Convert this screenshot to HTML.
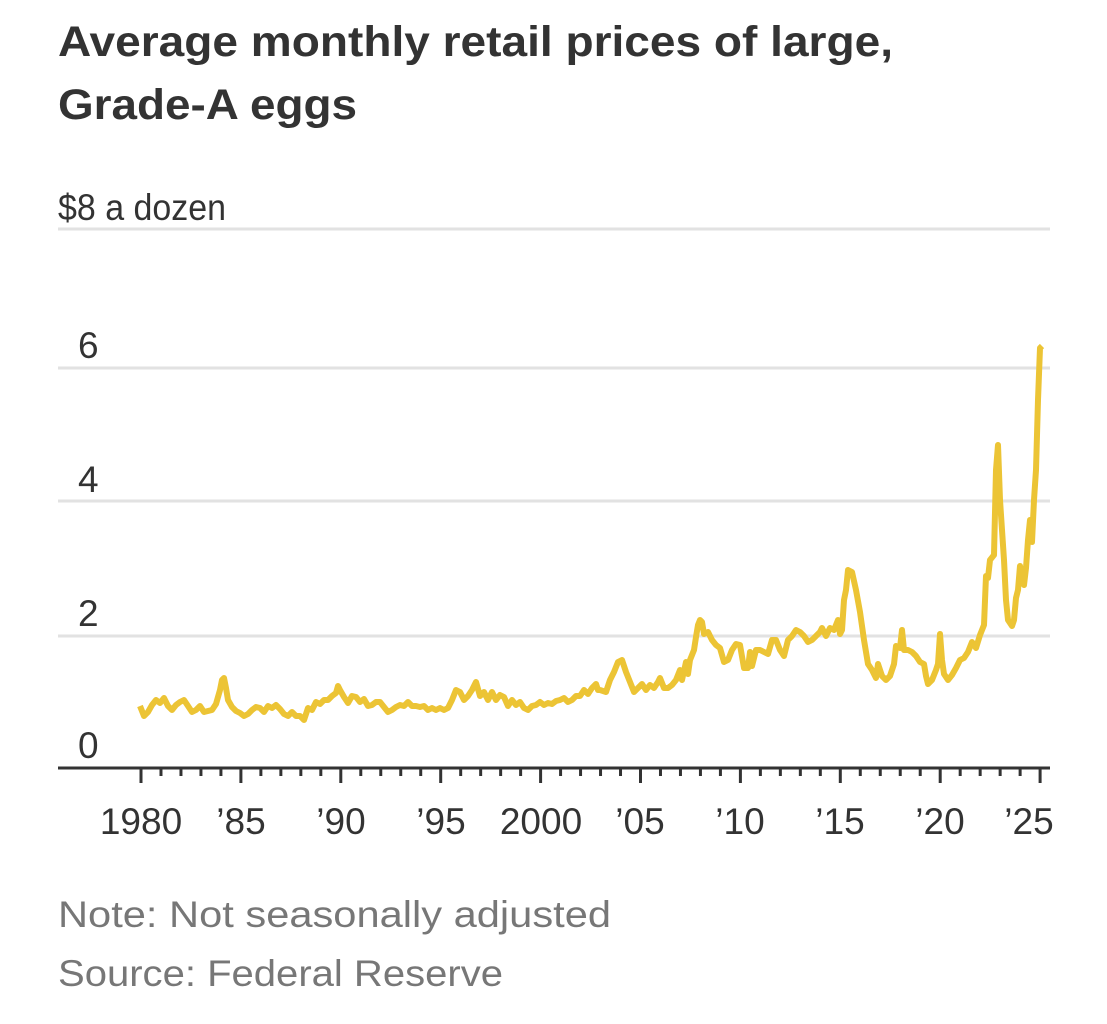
<!DOCTYPE html>
<html><head><style>
body{margin:0;background:#fff;width:1107px;height:1024px;overflow:hidden;font-family:"Liberation Sans",sans-serif;}
</style></head><body>
<svg width="1107" height="1024" xmlns="http://www.w3.org/2000/svg" style="position:absolute;left:0;top:0">
<text x="58" y="56" font-family="Liberation Sans" font-weight="bold" font-size="43" fill="#333" textLength="835" lengthAdjust="spacingAndGlyphs">Average monthly retail prices of large,</text>
<text x="58" y="119" font-family="Liberation Sans" font-weight="bold" font-size="43" fill="#333" textLength="299" lengthAdjust="spacingAndGlyphs">Grade-A eggs</text>
<g stroke="#e2e2e2" stroke-width="3">
<line x1="58" y1="229" x2="1050" y2="229"/>
<line x1="58" y1="368" x2="1050" y2="368"/>
<line x1="58" y1="501" x2="1050" y2="501"/>
<line x1="58" y1="636" x2="1050" y2="636"/>
</g>
<g font-family="Liberation Sans Narrow, Liberation Sans" font-size="37" fill="#333">
<text x="58" y="220" textLength="168" lengthAdjust="spacingAndGlyphs">$8 a dozen</text>
<text x="78" y="358">6</text>
<text x="78" y="492">4</text>
<text x="78" y="626">2</text>
<text x="78" y="758">0</text>
</g>
<line x1="58" y1="768" x2="1050" y2="768" stroke="#333" stroke-width="3"/>
<g stroke="#333" stroke-width="3" id="ticks"></g>
<g font-family="Liberation Sans Narrow, Liberation Sans" font-size="37" fill="#333" text-anchor="middle">
<text x="141" y="834">1980</text><text x="241" y="834">’85</text><text x="341" y="834">’90</text><text x="441" y="834">’95</text><text x="541" y="834">2000</text><text x="640" y="834">’05</text><text x="740" y="834">’10</text><text x="840" y="834">’15</text><text x="940" y="834">’20</text><text x="1029" y="834">’25</text>
</g>
<polyline fill="none" stroke="#ecc435" stroke-width="6" stroke-linejoin="round" points="140,706 144,716 148,712 152,705 156,700 160,703 164,698 168,706 172,710 176,705 180,702 184,700 188,706 192,712 196,710 200,706 204,712 208,711 212,710 216,704 220,690 222,680 224,678 226,688 228,700 232,707 236,711 240,713 244,716 248,714 252,710 256,707 260,708 264,712 268,706 272,708 276,705 280,709 284,714 288,716 292,712 296,716 300,716 304,720 308,708 312,710 316,702 320,704 324,700 328,700 332,696 336,693 338,686 340,690 344,697 348,703 352,696 356,697 360,702 364,699 368,706 372,705 376,702 380,702 384,707 388,712 392,710 396,707 400,705 404,706 408,702 412,706 416,706 420,707 424,706 428,710 432,708 436,710 440,708 444,710 448,708 452,700 456,690 460,692 464,700 468,696 472,690 476,682 480,696 484,692 488,700 492,692 496,700 500,695 504,697 508,706 512,700 516,705 520,702 524,708 528,710 532,706 536,705 540,702 544,705 548,703 552,704 556,701 560,700 564,698 568,702 572,700 576,696 580,696 584,690 588,694 592,688 596,684 598,690 600,690 606,692 610,680 614,672 618,662 622,660 626,672 630,682 634,692 638,688 642,684 646,690 650,685 654,688 658,682 660,678 664,688 668,688 672,685 676,680 680,670 682,680 686,662 688,674 690,660 694,650 696,637 698,625 700,620 702,622 704,634 708,632 712,640 716,645 720,648 724,662 728,660 732,650 736,644 740,645 744,668 748,668 750,652 752,666 756,650 760,650 764,652 768,654 772,640 776,640 780,650 784,656 788,640 792,636 796,630 800,632 804,636 808,642 812,640 816,636 820,632 822,628 826,636 830,628 834,630 838,620 840,634 842,630 844,600 846,590 848,570 852,572 856,590 860,612 864,640 868,664 872,670 876,678 878,664 882,676 886,680 890,676 894,664 896,646 900,648 902,630 904,650 908,650 912,652 916,656 920,662 924,664 926,676 928,684 932,680 936,670 938,664 940,634 942,660 944,674 948,680 952,675 956,668 960,660 964,658 968,652 972,642 976,648 980,635 984,625 986,576 988,578 990,560 994,555 996,470 998,445 1000,500 1004,560 1006,600 1008,620 1012,626 1014,620 1016,598 1018,590 1020,566 1022,575 1024,585 1026,568 1028,540 1030,520 1032,542 1034,500 1036,470 1038,400 1040,348 1042,346"/>
<g font-family="Liberation Sans" font-size="37" fill="#777">
<text x="58" y="927" textLength="553" lengthAdjust="spacingAndGlyphs">Note: Not seasonally adjusted</text>
<text x="58" y="986" textLength="445" lengthAdjust="spacingAndGlyphs">Source: Federal Reserve</text>
</g>
</svg>
<script>
var g=document.getElementById('ticks'),s='';
for(var y=1980;y<=2025;y++){var x=141+(y-1980)*19.98;var big=(y%5==0);s+='<line x1="'+x+'" y1="768" x2="'+x+'" y2="'+(big?783:776)+'"/>';}
g.innerHTML=s;
</script>
</body></html>
